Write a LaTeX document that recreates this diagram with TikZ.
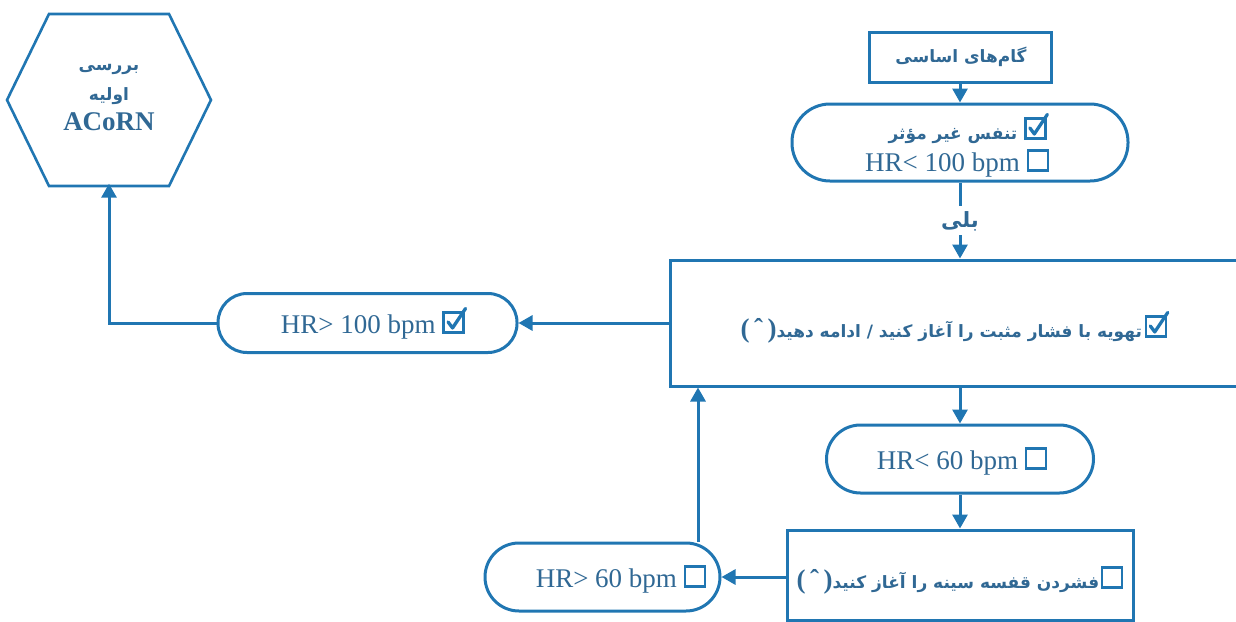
\documentclass[tikz,border=0pt]{standalone}
\usepackage{fontspec}
\setmainfont{Liberation Serif}
\newfontfamily\fa[Script=Arabic]{DejaVu Sans}
\TeXXeTstate=1
\usetikzlibrary{arrows.meta}
\definecolor{lc}{RGB}{32,118,178}
\definecolor{tc}{RGB}{48,104,148}
% empty and ticked check boxes
\newcommand\ebox{\tikz[baseline=-1pt,x=1pt,y=1pt]\draw[lc,line width=2.5pt] (0,0) rectangle (20,20);}
\newcommand\tbox{\tikz[baseline=-1pt,x=1pt,y=1pt]{\draw[lc,line width=2.5pt] (0,0) rectangle (20,20);
  \draw[lc,line width=3.3pt,line join=round,line cap=round] (4.5,10.5) -- (9,4.5) -- (22,24);}}
\newcommand\lat{\rmfamily\fontsize{27}{31}\selectfont}
\newcommand\per{\fa\bfseries\fontsize{17}{22}\selectfont}
\begin{document}
\begin{tikzpicture}[x=1pt,y=-1pt,
  box/.style={draw=lc,line width=3pt,inner sep=0pt,text=tc},
  stadium/.style={box,rounded corners=#1},
  lbl/.style={text=tc,inner sep=0pt,align=right},
  arr/.style={draw=lc,line width=3pt,-{Triangle[length=14pt,width=15pt]}},
  ln/.style={draw=lc,line width=3pt}]
\useasboundingbox (0,0) rectangle (1236,621);
\clip (0,0) rectangle (1236,621);

% hexagon: initial ACoRN survey
\node[inner sep=0pt,minimum width=204pt,minimum height=171pt,text=tc,align=center,
      font=\fa\bfseries\fontsize{17}{30}\selectfont] (hex) at (109,98)
  {\beginR بررسی\endR\\
   \beginR اولیه\endR\\[0pt]
   {\lat\bfseries ACoRN}};
\draw[lc,line width=2.6pt] (49,14) -- (169,14) -- (211,100) -- (169,186) -- (49,186) -- (7,100) -- cycle;

% main column
\node[box,minimum width=182pt,minimum height=50pt] (steps) at (960,57) {};
\node[lbl] at (961,57) {\per\beginR گام‌های اساسی\endR};

\node[stadium=38pt,minimum width=336pt,minimum height=77pt] (q1) at (960,142.5) {};
\node[lbl,font=\lat] at (957,145) {{\per\beginR تنفس غیر مؤثر\endR}\ \tbox\\[1pt]HR< 100 bpm\ \ebox};

\node[lbl] (yes) at (960,221) {\fa\bfseries\fontsize{21}{24}\selectfont\beginR بلی\endR};

\node[box,minimum width=580pt,minimum height=126pt] (vent) at (960,323) {};
\node[lbl] at (955,327) {{\lat\bfseries(\,ˆ\,)}{\per\beginR تهویه با فشار مثبت را آغاز کنید / ادامه دهید\endR}\ \tbox};

\node[stadium=34pt,minimum width=267pt,minimum height=68pt] (hr60a) at (960,459) {};
\node[lbl,font=\lat] at (962,461) {HR< 60 bpm\ \ebox};

\node[box,minimum width=346pt,minimum height=90pt] (comp) at (960,575) {};
\node[lbl] at (960,580) {{\lat\bfseries(\,ˆ\,)}{\per\beginR فشردن قفسه سینه را آغاز کنید\endR}\,\ebox};

% side results
\node[stadium=29pt,minimum width=299pt,minimum height=59pt] (hr100) at (367.5,323) {};
\node[lbl,font=\lat] at (374,323) {HR> 100 bpm\ \tbox};

\node[stadium=34pt,minimum width=235pt,minimum height=68pt] (hr60b) at (602.5,577) {};
\node[lbl,font=\lat] at (621,579) {HR> 60 bpm\ \ebox};

% connectors
\coordinate (up) at (698,0);
\draw[arr] (steps.south) -- (q1.north);
\draw[ln] (q1.south) -- ([yshift=5pt]yes.north);
\draw[arr] ([yshift=-4pt]yes.south) -- (vent.north);
\draw[arr] (vent.south) -- (hr60a.north);
\draw[arr] (hr60a.south) -- (comp.north);
\draw[arr] (comp.west |- hr60b.east) -- (hr60b.east);
\draw[arr] (hr60b.north -| up) -- (vent.south -| up);
\draw[arr] (vent.west |- hr100.east) -- (hr100.east);
\draw[arr] (hr100.west) -| (hex.south);
\end{tikzpicture}
\end{document}
